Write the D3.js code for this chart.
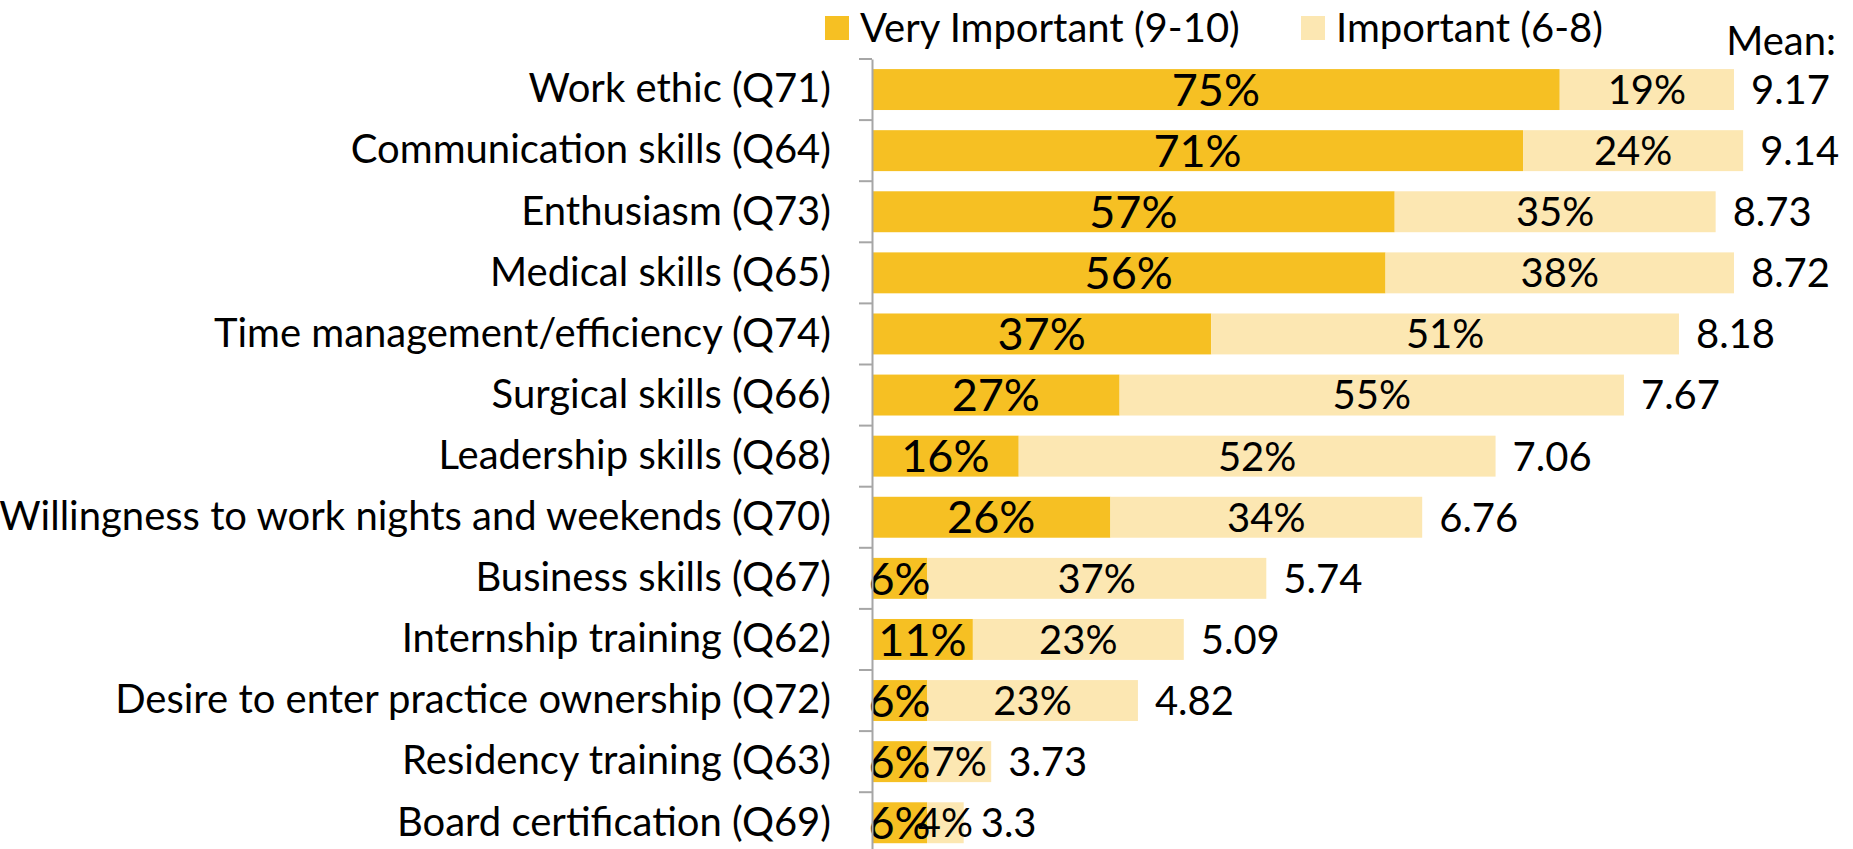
<!DOCTYPE html>
<html>
<head>
<meta charset="utf-8">
<script src="https://cdn.jsdelivr.net/npm/d3@7"></script>
<style>
  body { margin: 0; background: #ffffff; }
  text { font-family: Lato, "Noto Sans", sans-serif; fill: #000000; }
</style>
</head>
<body>
<div id="vis"></div>
<script>
// Data ----------------------------------------------------------------------------------------------------------------
const categories = [
  "Work ethic (Q71)",
  "Communication skills (Q64)",
  "Enthusiasm (Q73)",
  "Medical skills (Q65)",
  "Time management/efficiency (Q74)",
  "Surgical skills (Q66)",
  "Leadership skills (Q68)",
  "Willingness to work nights and weekends (Q70)",
  "Business skills (Q67)",
  "Internship training (Q62)",
  "Desire to enter practice ownership (Q72)",
  "Residency training (Q63)",
  "Board certification (Q69)"
];
const veryImportant = [75, 71, 57, 56, 37, 27, 16, 26, 6, 11, 6, 6, 6];
const important = [19, 24, 35, 38, 51, 55, 52, 34, 37, 23, 23, 7, 4];
const means = ["9.17", "9.14", "8.73", "8.72", "8.18", "7.67", "7.06", "6.76", "5.74", "5.09", "4.82", "3.73", "3.3"];
const seriesNames = ["Very Important (9-10)", "Important (6-8)"];

// Initialize the canvas -----------------------------------------------------------------------------------------------
const canvasWidth = 1853;
const canvasHeight = 849;

const axisX = 872;
const topPadding = 59;
const rowStep = 61.1;

const darkColor = "#f6c023";
const lightColor = "#fce7b2";

const svg = d3.select("#vis")
  .append("svg")
  .attr("width", canvasWidth)
  .attr("height", canvasHeight);

const xScale = d3.scaleLinear()
  .domain([0, 100])
  .range([axisX, axisX + 917]);

const yScale = d3.scaleBand()
  .domain(categories)
  .range([topPadding, topPadding + rowStep * categories.length])
  .paddingInner(0.33)
  .paddingOuter(0.165);

const rows = categories.map((c, i) => ({
  name: c,
  dark: veryImportant[i],
  light: important[i],
  mean: means[i]
}));

// Plot the bars -------------------------------------------------------------------------------------------------------
const chartGroup = svg.append("g");

const rowGroups = chartGroup.selectAll("g")
  .data(rows)
  .enter()
  .append("g")
  .attr("transform", d => "translate(0, " + yScale(d.name) + ")");

rowGroups.append("rect")
  .attr("x", xScale(0))
  .attr("y", 0)
  .attr("width", d => xScale(d.dark) - xScale(0))
  .attr("height", yScale.bandwidth())
  .attr("fill", darkColor);

rowGroups.append("rect")
  .attr("x", d => xScale(d.dark))
  .attr("y", 0)
  .attr("width", d => xScale(d.dark + d.light) - xScale(d.dark))
  .attr("height", yScale.bandwidth())
  .attr("fill", lightColor);

// Bar labels ----------------------------------------------------------------------------------------------------------
const pctFontSize = 40;
const darkPctFontSize = 45;

rowGroups.append("text")
  .text(d => d.light + "%")
  .attr("x", d => xScale(d.dark + d.light / 2))
  .attr("y", yScale.bandwidth() / 2)
  .attr("dy", "0.36em")
  .style("text-anchor", "middle")
  .style("font-size", pctFontSize);

rowGroups.append("text")
  .text(d => d.dark + "%")
  .attr("x", d => xScale(d.dark / 2))
  .attr("y", yScale.bandwidth() / 2)
  .attr("dy", "0.36em")
  .style("text-anchor", "middle")
  .style("font-size", darkPctFontSize);

rowGroups.append("text")
  .text(d => d.mean)
  .attr("x", d => xScale(d.dark + d.light) + 17)
  .attr("y", yScale.bandwidth() / 2)
  .attr("dy", "0.36em")
  .style("text-anchor", "start")
  .style("font-size", pctFontSize);

svg.append("text")
  .text("Mean:")
  .attr("x", 1836)
  .attr("y", 55)
  .style("text-anchor", "end")
  .style("font-size", pctFontSize);

// Render the axis -----------------------------------------------------------------------------------------------------
const labelFontSize = 40;

const yAxis = svg.append("g")
  .attr("transform", "translate(" + axisX + ", 0)")
  .call(d3.axisLeft(yScale).tickSize(0).tickPadding(41));
yAxis.selectAll("text")
  .style("font-size", labelFontSize)
  .style("font-family", "Lato, 'Noto Sans', sans-serif")
  .attr("fill", "#000000");
yAxis.select(".domain")
  .attr("stroke", "#a6a6a6")
  .attr("stroke-width", 2);

// category boundary ticks
const halfGap = yScale.step() * yScale.paddingInner() / 2;
yAxis.selectAll(".boundary")
  .data(categories)
  .enter()
  .append("line")
  .attr("class", "boundary")
  .attr("x1", -13)
  .attr("x2", 0)
  .attr("y1", d => yScale(d) - halfGap)
  .attr("y2", d => yScale(d) - halfGap)
  .attr("stroke", "#a6a6a6")
  .attr("stroke-width", 2);

// Render the legend ---------------------------------------------------------------------------------------------------
const legendFontSize = 40;
const swatch = 24;
const legendItems = [
  { name: seriesNames[0], color: darkColor, x: 825 },
  { name: seriesNames[1], color: lightColor, x: 1301 }
];

const legendGroup = svg.append("g");

legendGroup.selectAll("rect")
  .data(legendItems)
  .enter()
  .append("rect")
  .attr("x", d => d.x)
  .attr("y", 16)
  .attr("width", swatch)
  .attr("height", swatch)
  .attr("fill", d => d.color);

legendGroup.selectAll("text")
  .data(legendItems)
  .enter()
  .append("text")
  .text(d => d.name)
  .attr("x", d => d.x + swatch + 11)
  .attr("y", 16 + swatch / 2)
  .attr("dy", "0.36em")
  .style("text-anchor", "start")
  .style("font-size", legendFontSize);
</script>
</body>
</html>
